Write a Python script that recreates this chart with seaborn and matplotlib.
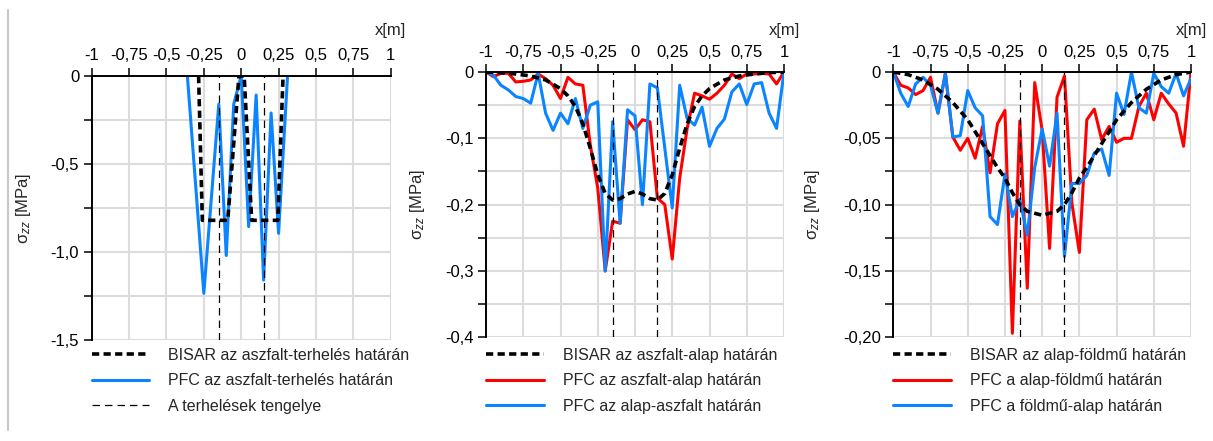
import numpy as np
import pandas as pd
import seaborn as sns
import matplotlib.pyplot as plt
from matplotlib.lines import Line2D

# =========================
# DATA
# =========================
x_ticks = [-1, -0.75, -0.5, -0.25, 0, 0.25, 0.5, 0.75, 1]
x_ticklabels = ["-1", "-0,75", "-0,5", "-0,25", "0", "0,25", "0,5", "0,75", "1"]
load_axes = [-0.15, 0.15]

# panel 1: asphalt / load boundary
p1_bisar_x = [-0.285, -0.26, -0.09, -0.015, 0.02, 0.07, 0.245, 0.28]
p1_bisar_y = [0, -0.82, -0.82, 0, 0, -0.82, -0.82, 0]
p1_pfc_x = [-0.36, -0.25, -0.15, -0.10, -0.05, 0.0, 0.05, 0.10, 0.15, 0.20, 0.25, 0.31]
p1_pfc_y = [0, -1.235, -0.16, -1.02, -0.16, 0, -0.856, -0.108, -1.16, -0.21, -0.894, 0]
p1_yticks = [0, -0.5, -1.0, -1.5]
p1_yticklabels = ["0", "-0,5", "-1,0", "-1,5"]
p1_yminor = [-0.25, -0.75, -1.25]

# common PFC sample positions (panels 2 and 3)
x_pfc = [-1, -0.95, -0.9, -0.85, -0.8, -0.75, -0.7, -0.65, -0.6, -0.55, -0.5,
         -0.45, -0.4, -0.35, -0.3, -0.25, -0.2, -0.15, -0.1, -0.05, 0,
         0.05, 0.1, 0.15, 0.2, 0.25, 0.3, 0.35, 0.4, 0.45, 0.5,
         0.55, 0.6, 0.65, 0.7, 0.75, 0.8, 0.85, 0.9, 0.95, 1]

# panel 2: asphalt / base boundary
p2_bisar_x = [-1, -0.9, -0.8, -0.7, -0.6, -0.5, -0.45, -0.4, -0.35, -0.3, -0.25,
              -0.2, -0.15, -0.1, -0.05, 0, 0.05, 0.1, 0.15, 0.2, 0.25, 0.3,
              0.35, 0.4, 0.45, 0.5, 0.6, 0.7, 0.8, 0.9, 1]
p2_bisar_y = [0, -0.001, -0.003, -0.006, -0.012, -0.025, -0.036, -0.052, -0.078, -0.115, -0.155,
              -0.183, -0.193, -0.191, -0.184, -0.180, -0.184, -0.191, -0.193, -0.183, -0.155, -0.115,
              -0.078, -0.052, -0.036, -0.025, -0.012, -0.006, -0.003, -0.001, 0]
p2_red = [0, -0.007, -0.002, -0.002, -0.015, -0.014, -0.012, -0.003, -0.010, -0.020, -0.040,
          -0.008, -0.018, -0.020, -0.110, -0.175, -0.300, -0.225, -0.228, -0.072, -0.087,
          -0.072, -0.075, -0.190, -0.200, -0.282, -0.160, -0.085, -0.032, -0.036, -0.041,
          -0.032, -0.020, -0.003, -0.010, -0.003, -0.003, -0.002, -0.003, -0.018, 0]
p2_blue = [0, -0.005, -0.020, -0.027, -0.037, -0.040, -0.047, -0.002, -0.062, -0.088, -0.062,
           -0.078, -0.040, -0.085, -0.050, -0.045, -0.300, -0.075, -0.228, -0.057, -0.066,
           -0.200, -0.018, -0.024, -0.115, -0.205, -0.020, -0.070, -0.080, -0.053, -0.112,
           -0.085, -0.071, -0.030, -0.018, -0.049, -0.018, -0.016, -0.062, -0.085, 0]
p2_yticks = [0, -0.1, -0.2, -0.3, -0.4]
p2_yticklabels = ["0", "-0,1", "-0,2", "-0,3", "-0,4"]
p2_yminor = [-0.05, -0.15, -0.25, -0.35]

# panel 3: base / subgrade boundary
p3_bisar_x = [-1, -0.9, -0.8, -0.7, -0.6, -0.5, -0.45, -0.4, -0.35, -0.3, -0.25,
              -0.2, -0.15, -0.1, 0, 0.1, 0.15, 0.2, 0.25, 0.3,
              0.35, 0.4, 0.45, 0.5, 0.6, 0.7, 0.8, 0.9, 1]
p3_bisar_y = [0, -0.002, -0.006, -0.013, -0.023, -0.036, -0.045, -0.054, -0.063, -0.072, -0.080,
              -0.091, -0.100, -0.105, -0.108, -0.105, -0.100, -0.091, -0.080, -0.072,
              -0.063, -0.054, -0.045, -0.036, -0.023, -0.013, -0.006, -0.002, 0]
p3_red = [0, -0.010, -0.012, -0.017, -0.014, -0.004, -0.031, -0.001, -0.049, -0.059, -0.050,
          -0.065, -0.041, -0.076, -0.039, -0.029, -0.197, -0.037, -0.163, -0.008, -0.044,
          -0.133, -0.019, -0.003, -0.099, -0.136, -0.036, -0.028, -0.051, -0.041, -0.053,
          -0.050, -0.050, -0.026, -0.016, -0.036, -0.016, -0.024, -0.031, -0.056, 0]
p3_blue = [0, -0.016, -0.026, -0.009, -0.004, -0.010, -0.031, -0.001, -0.049, -0.048, -0.014,
           -0.027, -0.033, -0.109, -0.115, -0.077, -0.109, -0.096, -0.123, -0.072, -0.043,
           -0.071, -0.031, -0.139, -0.084, -0.084, -0.078, -0.061, -0.058, -0.078, -0.016,
           -0.032, 0, -0.027, -0.031, -0.001, -0.011, -0.016, -0.001, -0.018, -0.005]
p3_yticks = [0, -0.05, -0.10, -0.15, -0.20]
p3_yticklabels = ["0", "-0,05", "-0,10", "-0,15", "-0,20"]
p3_yminor = [-0.025, -0.075, -0.125, -0.175]

# =========================
# VISUAL SETTINGS
# =========================
sns.set_theme(style="white")
plt.rcParams["font.family"] = ["Liberation Sans", "DejaVu Sans"]
plt.rcParams["mathtext.fontset"] = "custom"
plt.rcParams["mathtext.rm"] = "Liberation Sans"
plt.rcParams["mathtext.it"] = "Liberation Sans:italic"

BLUE = "#0a84ff"
RED = "#ff0000"
GRID = "#dcdcdc"
W, H = 1213, 441

fig = plt.figure(figsize=(W / 100, H / 100), dpi=100)

# left page border
fig.add_artist(Line2D([8 / W, 8 / W], [1 - 10 / H, 1 - 430 / H],
                      transform=fig.transFigure, color="#c8c8c8", lw=1.5))

panels = [
    dict(box=(91.7, 76, 390.7, 340), ylim=-1.5, yt=p1_yticks, ytl=p1_yticklabels, ym=p1_yminor,
         lab_off=59,
         bisar=(p1_bisar_x, p1_bisar_y, "BISAR az aszfalt-terhelés határán"),
         series=[(p1_pfc_x, p1_pfc_y, BLUE, "PFC az aszfalt-terhelés határán")],
         axis_label="A terhelések tengelye"),
    dict(box=(486, 72, 784, 337.3), ylim=-0.4, yt=p2_yticks, ytl=p2_yticklabels, ym=p2_yminor,
         lab_off=59,
         bisar=(p2_bisar_x, p2_bisar_y, "BISAR az aszfalt-alap határán"),
         series=[(x_pfc, p2_red, RED, "PFC az aszfalt-alap határán"),
                 (x_pfc, p2_blue, BLUE, "PFC az alap-aszfalt határán")],
         axis_label=None),
    dict(box=(893.3, 72, 1191, 337.3), ylim=-0.2, yt=p3_yticks, ytl=p3_yticklabels, ym=p3_yminor,
         lab_off=71,
         bisar=(p3_bisar_x, p3_bisar_y, "BISAR az alap-földmű határán"),
         series=[(x_pfc, p3_red, RED, "PFC a alap-földmű határán"),
                 (x_pfc, p3_blue, BLUE, "PFC a földmű-alap határán")],
         axis_label=None),
]

for p in panels:
    x0, y0, x1, y1 = p["box"]
    ax = fig.add_axes([x0 / W, 1 - y1 / H, (x1 - x0) / W, (y1 - y0) / H])

    # BISAR curve (thick dashed)
    bx, by, blab = p["bisar"]
    sns.lineplot(x=bx, y=by, ax=ax, color="black", lw=2.6, sort=False,
                 estimator=None, label=blab, zorder=5)
    ax.lines[-1].set_dashes([2.0, 1.2])

    # PFC series
    for sx, sy, col, lab in p["series"]:
        sns.lineplot(x=sx, y=sy, ax=ax, color=col, lw=2.2, sort=False,
                     estimator=None, label=lab, zorder=3)

    # load axes (thin dashed)
    for i, xa in enumerate(load_axes):
        lab = p["axis_label"] if (i == 0 and p["axis_label"]) else "_nolegend_"
        ax.axvline(xa, color="black", lw=0.9, dashes=(6, 4), zorder=6, label=lab)

    ax.set_xlim(-1, 1)
    ax.set_ylim(p["ylim"], 0)

    ax.xaxis.tick_top()
    ax.set_xticks(x_ticks, x_ticklabels)
    ax.set_yticks(p["yt"], p["ytl"])
    ax.set_yticks(p["ym"], minor=True)
    ax.tick_params(axis="both", which="both", direction="out", length=6, width=1.1,
                   color="black", labelsize=12, labelcolor="black", pad=3)
    ax.tick_params(axis="x", which="both", top=True, bottom=False, labeltop=True,
                   labelbottom=False)
    ax.tick_params(axis="y", which="both", left=True, right=False)

    ax.grid(True, which="both", color=GRID, lw=1.5, zorder=0)
    ax.set_axisbelow(True)
    for side in ["right", "bottom"]:
        ax.spines[side].set_visible(False)
    for side in ["top", "left"]:
        ax.spines[side].set_color("black")
        ax.spines[side].set_linewidth(1.4)
        ax.spines[side].set_zorder(7)

    ax.set_xlabel("")
    ax.set_ylabel(r"$\mathrm{\sigma}_{zz}$ [MPa]", fontsize=12)
    ax.yaxis.set_label_coords(-p["lab_off"] / (x1 - x0), 0.5)

    ax.annotate("x[m]", xy=(1, 1), xycoords="axes fraction",
                xytext=(0, y0 - 30), textcoords="offset pixels",
                ha="center", va="center", fontsize=12)

    ax.legend(loc="upper left", bbox_to_anchor=(x0 / W, 1 - 348 / H),
              bbox_transform=fig.transFigure, frameon=False, fontsize=11.5,
              handlelength=3.6, handletextpad=1.2, labelspacing=0.65,
              borderpad=0, borderaxespad=0)

plt.savefig("out.png", dpi=100)
